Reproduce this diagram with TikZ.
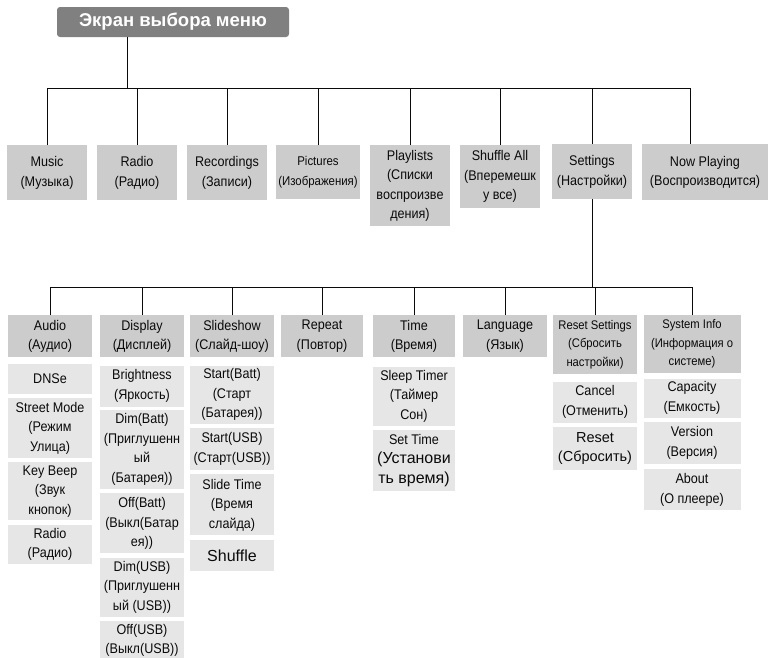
\documentclass[tikz,border=0pt]{standalone}
\usepackage{fontspec}
\setmainfont[FakeStretch=0.9]{Liberation Sans}
\newfontfamily\widefont{Liberation Sans}
\usetikzlibrary{positioning}
\definecolor{ink}{RGB}{10,10,10}
\definecolor{titlegray}{RGB}{128,128,128}
\definecolor{boxgray}{RGB}{204,204,204}
\definecolor{itemgray}{RGB}{230,230,230}
\newcommand\boxfont{\rmfamily\fontsize{14}{19.5}\selectfont}
\newcommand\smallboxfont{\rmfamily\fontsize{12.5}{18.5}\selectfont}
\newcommand\bigfont{\widefont\fontsize{16}{19.5}\selectfont}

\begin{document}
\begin{tikzpicture}[
    x=1pt, y=-1pt,
    node distance=4pt,
    menu/.style={rectangle, fill=titlegray, rounded corners=3pt, text=white,
                 font=\widefont\bfseries\fontsize{18.5}{22}\selectfont,
                 minimum width=232, minimum height=30, inner sep=2pt},
    cat/.style={rectangle, fill=boxgray, anchor=north, align=center,
                minimum width=80, inner sep=2pt, font=\boxfont, text=ink},
    sub/.style={cat, minimum width=84, minimum height=42},
    item/.style={rectangle, fill=itemgray, align=center, minimum width=84,
                 inner sep=2pt, font=\boxfont, text=ink},
    link/.style={draw=ink, line width=0.9pt}
  ]
    \useasboundingbox (0,0) rectangle (770,657);

    % title
    \node[menu] (title) at (173,22) {Экран выбора меню};

    % first level
    \node[cat, minimum height=55] (music) at (47,145) {Music\\(Музыка)};
    \node[cat, minimum height=55] (radio) at (137,145) {Radio\\(Радио)};
    \node[cat, minimum height=55] (rec) at (227,145) {Recordings\\(Записи)};
    \node[cat, minimum height=54, font=\rmfamily\fontsize{12.7}{19.5}\selectfont]
        (pict) at (318,145) {Pictures\\(Изображения)};
    \node[cat, minimum height=81] (play) at (410,145) {Playlists\\(Списки\\воспроизве\\дения)};
    \node[cat, minimum height=63] (shuf) at (500,145) {Shuffle All\\(Вперемешк\\у все)};
    \node[cat, minimum height=55] (sett) at (592,144) {Settings\\(Настройки)};
    \node[cat, minimum height=56, minimum width=126] (now) at (705,144) {Now Playing\\(Воспроизводится)};

    \coordinate (bus1) at (127,88);
    \coordinate (nowtap) at ([xshift=-15pt]now.north);
    \draw[link] (title.south -| bus1) -- (bus1);
    \draw[link] (music.north) |- (nowtap |- bus1) -- (nowtap);
    \foreach \n in {radio,rec,pict,play,shuf,sett}
        \draw[link] (\n.north) -- (\n.north |- bus1);

    % settings menu
    \node[sub] (audio) at (50,315) {Audio\\(Аудио)};
    \node[sub] (display) at (142,315) {Display\\(Дисплей)};
    \node[sub] (slide) at (232,315) {Slideshow\\(Слайд-шоу)};
    \node[sub, minimum width=82] (repeat) at (322,315) {Repeat\\(Повтор)};
    \node[sub, minimum width=82] (time) at (414,315) {Time\\(Время)};
    \node[sub] (lang) at (505,315) {Language\\(Язык)};
    \node[sub, minimum height=59, font=\smallboxfont] (reset) at (595,315) {Reset Settings\\(Сбросить\\настройки)};
    \node[sub, minimum height=58, minimum width=97, font=\smallboxfont] (sysinfo) at (692,315) {System Info\\(Информация о\\системе)};

    \coordinate (bus2) at (591,287);
    \draw[link] (sett.south) -- (sett.south |- bus2);
    \draw[link] (audio.north) |- (sysinfo.north |- bus2) -- (sysinfo.north);
    \foreach \n in {display,slide,repeat,time,lang,reset}
        \draw[link] (\n.north) -- (\n.north |- bus2);

    % audio
    \node[item, minimum height=30, below=6pt of audio] (dnse) {DNSe};
    \node[item, minimum height=60, below=of dnse] (street) {Street Mode\\(Режим\\Улица)};
    \node[item, minimum height=58, below=of street] (beep) {Key Beep\\(Звук\\кнопок)};
    \node[item, minimum height=39, below=of beep] (aradio) {Radio\\(Радио)};

    % display
    \node[item, minimum height=41, below=8pt of display] (bright) {Brightness\\(Яркость)};
    \node[item, minimum height=79, below=3pt of bright] (dimbatt) {Dim(Batt)\\(Приглушенн\\ый\\(Батарея))};
    \node[item, minimum height=60, below=of dimbatt] (offbatt) {Off(Batt)\\(Выкл(Батар\\ея))};
    \node[item, minimum height=59, below=of offbatt] (dimusb) {Dim(USB)\\(Приглушенн\\ый (USB))};
    \node[item, minimum height=38, below=of dimusb] (offusb) {Off(USB)\\(Выкл(USB))};

    % slideshow
    \node[item, minimum height=58, below=8pt of slide] (startbatt) {Start(Batt)\\(Старт\\(Батарея))};
    \node[item, minimum height=42, below=of startbatt] (startusb) {Start(USB)\\(Старт(USB))};
    \node[item, minimum height=61, below=of startusb] (slidetime) {Slide Time\\(Время\\слайда)};
    \node[item, minimum height=31, below=of slidetime, font=\bigfont] (shuffle) {Shuffle};

    % time
    \node[item, minimum height=59, minimum width=82, below=9pt of time] (sleep) {Sleep Timer\\(Таймер\\Сон)};
    \node[item, minimum height=61, minimum width=82, below=of sleep, font=\bigfont]
        (settime) {{\boxfont Set Time}\\(Установи\\ть время)};

    % reset settings
    \node[item, minimum height=41, below=7pt of reset] (cancel) {Cancel\\(Отменить)};
    \node[item, minimum height=43, below=of cancel, font=\widefont\fontsize{14.5}{19.5}\selectfont]
        (resetnow) {Reset\\(Сбросить)};

    % system info
    \node[item, minimum height=39, minimum width=97, below=5pt of sysinfo] (capacity) {Capacity\\(Емкость)};
    \node[item, minimum height=42, minimum width=97, below=of capacity] (version) {Version\\(Версия)};
    \node[item, minimum height=41, minimum width=97, below=5pt of version] (about) {About\\(О плеере)};
\end{tikzpicture}
\end{document}
